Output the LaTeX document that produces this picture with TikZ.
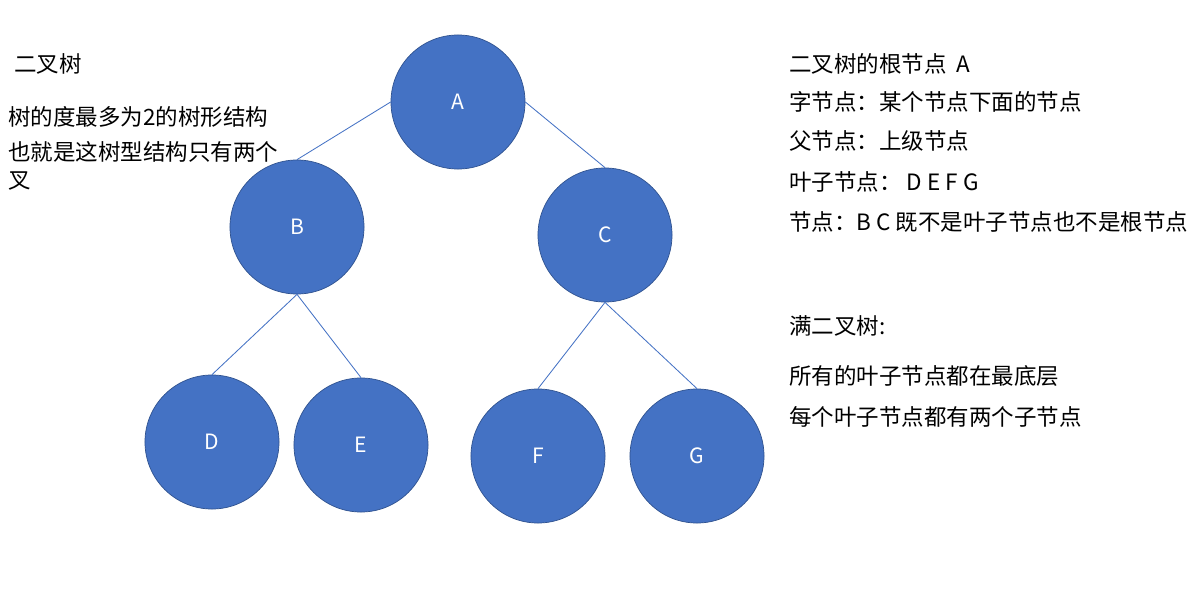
\documentclass[tikz,border=0pt]{standalone}
\usepackage{fontspec}
\setmainfont{Noto Sans CJK SC}
\usepackage{tikz}
\usetikzlibrary{positioning}
\definecolor{nodeblue}{HTML}{4472C4}
\definecolor{nodeedge}{HTML}{2F528F}
\tikzset{
  treenode/.style={circle,fill=nodeblue,draw=nodeedge,line width=0.5pt,
    minimum size=3.35cm,inner sep=0pt,text=white,font=\fontsize{15}{17}\selectfont},
  note/.style={anchor=west,inner sep=0pt,font=\fontsize{16}{19}\selectfont},
}

\begin{document}
\begin{tikzpicture}[
  x=0.025cm,y=-0.025cm,
  every edge/.style={draw=nodeblue,line width=0.6pt}
]
\useasboundingbox (0,0) rectangle (1193,593);

\node[treenode] (A) at (458,102) {A};
\node[treenode] (B) at (297,227) {B};
\node[treenode] (C) at (605,235) {C};
\node[treenode] (D) at (212,442) {D};
\node[treenode] (E) at (361,445) {E};
\node[treenode] (F) at (538,456) {F};
\node[treenode] (G) at (697,456) {G};

\path
(A.west) edge (B.north)
(A.east) edge (C.north)
(B.south) edge (D.north)
(B.south) edge (E.north)
(C.south) edge (F.north)
(C.south) edge (G.north);

% left notes
\node[note] (t1) at (14,64) {二叉树};
\node[note] (t2) at (8,117) {树的度最多为2的树形结构};
\node[note] (t3) at (8,152) {也就是这树型结构只有两个};
\node[note] (t4) at (8,181) {叉};

% right notes
\node[note] (r1) at (789,64) {二叉树的根节点\ \ A};
\node[note] (r2) at (789,102) {字节点：某个节点下面的节点};
\node[note] (r3) at (789,141) {父节点：上级节点};
\node[note] (r4) at (789,182) {叶子节点：\ D E F G};
\node[note] (r5) at (789,222) {节点：B C\ 既不是叶子节点也不是根节点};
\node[note] (r6) at (789,326) {满二叉树:};
\node[note] (r7) at (789,376) {所有的叶子节点都在最底层};
\node[note] (r8) at (789,417) {每个叶子节点都有两个子节点};

\end{tikzpicture}
\end{document}
